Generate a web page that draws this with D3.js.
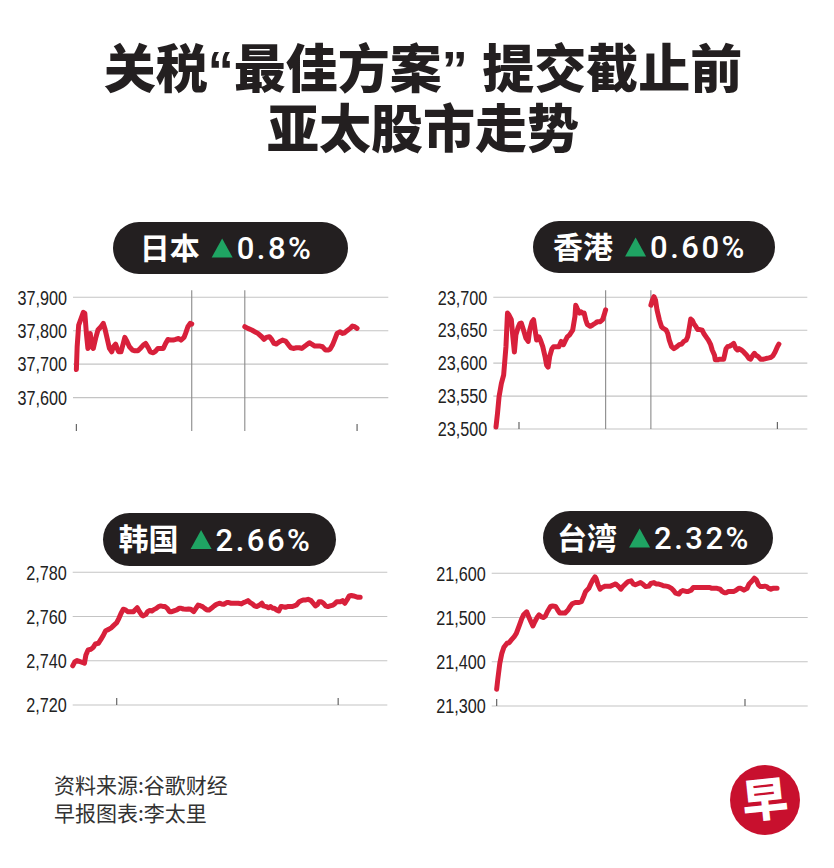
<!DOCTYPE html>
<html><head><meta charset="utf-8">
<script src="https://cdn.jsdelivr.net/npm/d3@7"></script>
<style>
html,body{margin:0;padding:0;background:#fff;}
#wrap{position:relative;width:834px;height:868px;}
svg{display:block;position:absolute;left:0;top:0;}
.title{position:absolute;left:12px;width:822px;height:60px;line-height:60px;text-align:center;
  font-family:"Liberation Sans","Noto Sans CJK SC",sans-serif;font-weight:900;font-size:52px;color:#231f20;white-space:nowrap;}
</style></head>
<body>
<div id="wrap"><svg id="chart" width="834" height="868"></svg></div>
<script>
// ---------- DATA ----------
const titleLines = ['关税“最佳方案” 提交截止前', '亚太股市走势'];
const markets = ['日本', '香港', '韩国', '台湾'];
const changes = ['0.8%', '0.60%', '2.66%', '2.32%'];
const footerLines = ['资料来源:谷歌财经', '早报图表:李太里'];
const logoChar = '早';

// y tick labels
const jpTicks = [37600, 37700, 37800, 37900];
const hkTicks = [23500, 23550, 23600, 23650, 23700];
const krTicks = [2720, 2740, 2760, 2780];
const twTicks = [21300, 21400, 21500, 21600];

// [minutes since session open, index value]
const japanAM = [[0,37684],[1,37752],[3,37817],[7,37842],[9,37855],[11,37852],[13,37792],[15,37747],[16,37762],[18,37792],[20,37752],[22,37747],[25,37777],[28,37802],[32,37812],[35,37822],[37,37807],[40,37777],[43,37747],[46,37737],[48,37752],[51,37760],[53,37747],[55,37737],[58,37737],[61,37762],[63,37780],[66,37767],[69,37752],[73,37742],[76,37740],[80,37740],[83,37747],[87,37757],[90,37762],[94,37747],[96,37737],[100,37734],[103,37739],[106,37747],[109,37747],[113,37747],[116,37762],[119,37774],[122,37772],[126,37772],[129,37774],[133,37777],[136,37772],[140,37780],[142,37792],[145,37812],[148,37822],[150,37820]];
const japanPM = [[219,37812],[223,37807],[228,37802],[232,37797],[236,37792],[241,37782],[244,37774],[247,37780],[251,37782],[254,37774],[257,37762],[260,37760],[264,37767],[268,37772],[272,37769],[276,37757],[279,37749],[283,37747],[286,37749],[290,37749],[293,37747],[296,37752],[299,37757],[303,37764],[306,37760],[310,37754],[313,37754],[317,37754],[320,37752],[324,37742],[327,37742],[330,37745],[333,37757],[336,37774],[339,37792],[343,37797],[346,37792],[349,37794],[352,37800],[356,37807],[359,37814],[362,37812],[365,37807]];

const hongkongAM = [[0,23503],[2,23524],[4,23549],[7,23569],[10,23582],[13,23625],[15,23676],[17,23673],[20,23666],[22,23640],[24,23617],[26,23643],[29,23655],[31,23660],[33,23661],[36,23650],[39,23638],[42,23633],[44,23650],[47,23663],[49,23666],[51,23650],[53,23635],[56,23640],[58,23635],[61,23625],[64,23610],[66,23597],[68,23594],[70,23610],[73,23622],[75,23625],[78,23625],[82,23625],[85,23633],[88,23628],[90,23633],[93,23640],[96,23643],[100,23650],[103,23671],[104,23688],[106,23683],[109,23676],[111,23678],[113,23676],[115,23676],[117,23666],[119,23659],[123,23656],[126,23658],[130,23661],[132,23663],[136,23663],[139,23666],[141,23673],[143,23681]];
const hongkongPM = [[202,23688],[204,23696],[206,23701],[208,23696],[210,23681],[213,23666],[216,23655],[218,23653],[222,23650],[224,23645],[226,23635],[229,23625],[232,23622],[236,23625],[239,23628],[242,23629],[245,23633],[248,23635],[250,23640],[252,23653],[254,23667],[256,23665],[258,23660],[261,23655],[263,23651],[266,23651],[269,23650],[271,23645],[274,23640],[277,23635],[280,23628],[282,23620],[285,23612],[286,23605],[289,23605],[291,23606],[294,23606],[297,23606],[300,23622],[302,23625],[305,23626],[308,23628],[310,23630],[313,23622],[315,23620],[317,23622],[320,23620],[323,23617],[327,23612],[330,23607],[332,23606],[335,23612],[337,23615],[339,23612],[342,23610],[345,23606],[349,23606],[352,23607],[356,23608],[359,23609],[361,23611],[364,23617],[367,23625],[369,23629]];

const korea = [[0,2737.7],[3,2739.6],[6,2740.1],[10,2739.6],[14,2739.2],[16,2738.9],[18,2742.6],[21,2744.9],[25,2745.2],[28,2746.1],[31,2747.6],[35,2747.9],[38,2749.4],[42,2751.7],[45,2753.6],[49,2754.2],[53,2755.0],[56,2756.0],[60,2757.2],[63,2759.2],[66,2761.5],[69,2763.3],[72,2763.0],[75,2762.2],[77,2762.2],[80,2762.2],[83,2762.2],[85,2763.0],[88,2764.0],[91,2762.2],[94,2760.7],[96,2760.3],[100,2761.0],[102,2762.2],[105,2762.7],[108,2762.5],[110,2763.0],[114,2763.7],[117,2764.5],[120,2764.8],[124,2764.5],[126,2764.5],[129,2763.7],[132,2762.2],[135,2762.2],[139,2762.7],[142,2763.0],[145,2763.7],[148,2763.7],[151,2763.4],[155,2763.3],[158,2763.4],[161,2763.3],[165,2762.2],[168,2763.7],[171,2765.2],[174,2764.9],[177,2764.5],[180,2763.7],[183,2763.0],[186,2763.0],[190,2764.0],[193,2764.8],[196,2765.5],[200,2766.0],[203,2765.7],[206,2765.5],[210,2766.3],[213,2766.3],[216,2766.0],[220,2766.0],[223,2766.0],[226,2766.0],[230,2765.7],[233,2766.3],[236,2766.7],[239,2767.2],[242,2766.3],[245,2765.7],[248,2764.8],[251,2764.5],[255,2765.2],[258,2766.0],[260,2764.8],[264,2764.5],[267,2764.0],[270,2764.5],[273,2763.7],[275,2763.7],[278,2763.0],[281,2762.5],[284,2764.5],[286,2764.5],[290,2764.2],[293,2764.5],[296,2764.5],[299,2764.5],[302,2764.8],[305,2765.2],[309,2766.7],[312,2767.2],[315,2767.5],[318,2767.5],[321,2767.8],[325,2767.2],[328,2766.0],[331,2764.8],[334,2765.5],[336,2766.7],[339,2766.7],[342,2766.0],[345,2764.8],[348,2764.5],[351,2764.8],[355,2765.2],[357,2765.7],[360,2766.7],[363,2766.7],[365,2766.7],[368,2767.2],[371,2766.0],[374,2767.5],[377,2769.3],[380,2769.5],[383,2769.3],[386,2769.0],[389,2768.7],[392,2768.7]];

const taiwan = [[0,21338],[1,21359],[3,21396],[5,21419],[7,21433],[10,21442],[12,21443],[14,21449],[17,21457],[19,21464],[22,21483],[24,21496],[26,21506],[29,21513],[31,21502],[33,21491],[35,21481],[37,21491],[39,21500],[41,21506],[43,21502],[45,21500],[47,21503],[49,21513],[52,21525],[54,21526],[57,21525],[59,21517],[61,21510],[64,21510],[66,21510],[69,21517],[71,21525],[73,21531],[76,21534],[79,21534],[82,21536],[84,21547],[86,21559],[89,21566],[91,21576],[93,21585],[95,21592],[96,21589],[98,21574],[100,21564],[102,21568],[105,21571],[108,21571],[110,21571],[113,21574],[115,21576],[118,21570],[120,21564],[122,21570],[125,21577],[127,21581],[130,21583],[132,21576],[134,21574],[137,21577],[139,21579],[142,21574],[144,21570],[147,21571],[149,21577],[152,21579],[154,21576],[156,21576],[159,21574],[161,21572],[164,21571],[166,21570],[169,21566],[171,21561],[173,21555],[176,21553],[178,21559],[180,21561],[183,21559],[185,21559],[188,21562],[190,21568],[193,21568],[195,21568],[198,21568],[200,21568],[203,21568],[206,21568],[208,21566],[211,21566],[213,21566],[216,21564],[218,21559],[220,21556],[222,21556],[224,21559],[226,21559],[229,21559],[231,21561],[234,21566],[236,21566],[239,21562],[242,21566],[244,21576],[247,21583],[249,21589],[251,21585],[253,21574],[255,21570],[257,21570],[259,21571],[261,21570],[263,21566],[265,21564],[267,21566],[270,21566],[271,21566]];

// session breaks (minutes) and bottom tick positions (minutes)
const jpBreaks = [150, 219], jpXTicks = [0, 365];
const hkBreaks = [143, 202], hkXTicks = [30, 367];
const krXTicks = [60, 362];
const twXTicks = [0, 240];

// ---------- LAYOUT ----------
const panels = [
  {name: markets[0], change: changes[0], series: [japanAM, japanPM], yTicks: jpTicks, yDom: [37500, 37900], xDom: [-4.4, 405.6], breaks: jpBreaks, xTicks: jpXTicks,
   x: [73, 388.3], y: [431, 297.3], baseline: false, pill: [113, 348, 222, 274]},
  {name: markets[1], change: changes[1], series: [hongkongAM, hongkongPM], yTicks: hkTicks, yDom: [23500, 23700], xDom: [-3.5, 406], breaks: hkBreaks, xTicks: hkXTicks,
   x: [493.3, 807.3], y: [429, 297.3], baseline: true, pill: [533, 775, 221, 273]},
  {name: markets[2], change: changes[2], series: [korea], yTicks: krTicks, yDom: [2720, 2780], xDom: [0, 429], breaks: [], xTicks: krXTicks,
   x: [72.7, 387.3], y: [705, 572.3], baseline: true, pill: [103, 336, 513, 566]},
  {name: markets[3], change: changes[3], series: [taiwan], yTicks: twTicks, yDom: [21300, 21600], xDom: [-4.8, 300.6], breaks: [], xTicks: twXTicks,
   x: [491.7, 807.7], y: [706, 573.3], baseline: true, pill: [543, 773, 511, 565]}
];

const RED = '#d8203b', GREEN = '#1fa463', DARK = '#231f20';
const svg = d3.select('#chart');

// Title as HTML lines; Latin primary face keeps quotes narrow, CJK falls back to Noto Sans CJK SC
const wrap = d3.select('#wrap');
wrap.selectAll('div.title').data(titleLines).join('div')
  .attr('class', 'title')
  .style('top', (d, i) => (40 + i * 60) + 'px')
  .text(d => d);

panels.forEach(p => {
  const x = d3.scaleLinear().domain(p.xDom).range(p.x);
  const y = d3.scaleLinear().domain(p.yDom).range(p.y);
  const g = svg.append('g');

  // gridlines
  g.append('g').selectAll('line').data(p.yTicks.filter(v => p.baseline || v !== p.yDom[0])).join('line')
    .attr('x1', p.x[0]).attr('x2', p.x[1])
    .attr('y1', d => y(d)).attr('y2', d => y(d))
    .attr('stroke', '#c4c4c4').attr('stroke-width', 1.1);

  // y labels (condensed)
  const labels = g.append('g').selectAll('text').data(p.yTicks).join('text')
    .attr('x', p.x[0] - 6).attr('y', d => y(d)).attr('dy', '0.36em')
    .attr('text-anchor', 'end')
    .attr('font-family', '"Liberation Sans Narrow", "Liberation Sans", sans-serif')
    .attr('font-size', 20).attr('fill', '#222')
    .text(d => d3.format(',')(d));
  labels.each(function () {
    const w = this.getComputedTextLength();
    d3.select(this).attr('textLength', w * 0.81).attr('lengthAdjust', 'spacingAndGlyphs');
  });

  // session break lines
  g.append('g').selectAll('line').data(p.breaks).join('line')
    .attr('x1', d => x(d)).attr('x2', d => x(d))
    .attr('y1', y(p.yDom[1]) - 7).attr('y2', y(p.yDom[0]))
    .attr('stroke', '#8a8a8a').attr('stroke-width', 1.1);

  // bottom ticks
  g.append('g').selectAll('line').data(p.xTicks).join('line')
    .attr('x1', d => x(d)).attr('x2', d => x(d))
    .attr('y1', y(p.yDom[0]) - 7).attr('y2', y(p.yDom[0]))
    .attr('stroke', '#666').attr('stroke-width', 1.2);

  // lines
  const line = d3.line().x(d => x(d[0])).y(d => y(d[1])).curve(d3.curveLinear);
  g.append('g').selectAll('path').data(p.series).join('path')
    .attr('d', line).attr('fill', 'none')
    .attr('stroke', RED).attr('stroke-width', 5)
    .attr('stroke-linejoin', 'round').attr('stroke-linecap', 'round');

  // pill
  const [px0, px1, py0, py1] = p.pill;
  const h = py1 - py0, cy = (py0 + py1) / 2;
  const pg = svg.append('g');
  pg.append('rect').attr('x', px0).attr('y', py0).attr('width', px1 - px0).attr('height', h)
    .attr('rx', h / 2).attr('fill', DARK);
  const lbl = pg.append('text').attr('y', cy).attr('dy', '0.36em')
    .attr('font-family', '"Noto Sans CJK SC", sans-serif').attr('font-weight', 700)
    .attr('font-size', 30).attr('fill', '#fff').text(p.name);
  const num = pg.append('text').attr('y', cy).attr('dy', '0.36em')
    .attr('font-family', 'Roboto, "Liberation Sans", Arial, sans-serif').attr('font-weight', 500)
    .attr('font-size', 31).attr('letter-spacing', 2.5).attr('fill', '#fff').text(p.change);
  const lw = lbl.node().getComputedTextLength();
  const nw = num.node().getComputedTextLength();
  const triW = 21, triH = 19, gap1 = 12, gap2 = 4;
  const total = lw + gap1 + triW + gap2 + nw;
  const startX = (px0 + px1) / 2 - total / 2 - 4;
  lbl.attr('x', startX);
  const tx = startX + lw + gap1;
  pg.append('path')
    .attr('d', `M${tx},${cy + triH / 2} L${tx + triW / 2},${cy - triH / 2} L${tx + triW},${cy + triH / 2} Z`)
    .attr('fill', GREEN);
  num.attr('x', tx + triW + gap2);
});

// footer
svg.append('g').selectAll('text').data(footerLines).join('text')
  .attr('x', 54).attr('y', (d, i) => 793 + i * 28)
  .attr('font-family', '"Noto Sans CJK SC", sans-serif')
  .attr('font-size', 21).attr('fill', '#333').text(d => d);

// logo
const logo = svg.append('g');
logo.append('circle').attr('cx', 765).attr('cy', 800).attr('r', 35).attr('fill', '#c8102e');
logo.append('text').attr('x', 765).attr('y', 800).attr('dy', '0.36em')
  .attr('text-anchor', 'middle')
  .attr('font-family', '"Noto Sans CJK SC", sans-serif').attr('font-weight', 900)
  .attr('font-size', 46).attr('fill', '#fff').attr('transform', 'rotate(-6,765,800)')
  .text(logoChar);
</script>
</body></html>
